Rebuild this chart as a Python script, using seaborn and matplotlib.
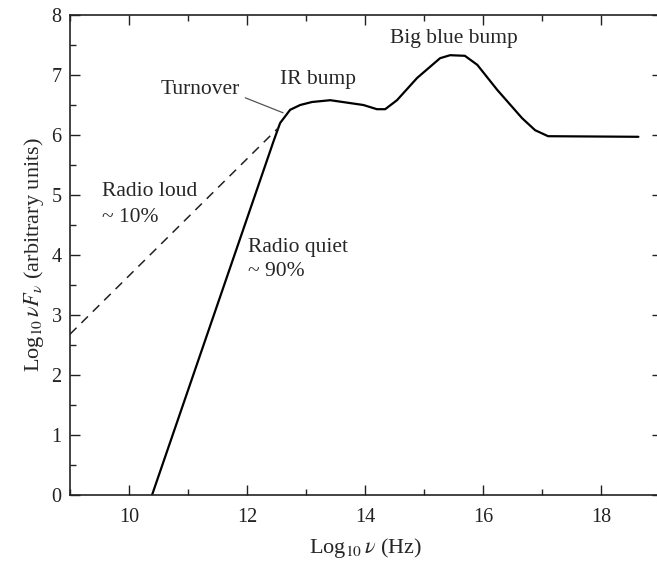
import matplotlib
matplotlib.use("Agg")
import matplotlib.pyplot as plt
import seaborn as sns
import pandas as pd
from matplotlib.ticker import MultipleLocator

# Data
quiet_x = [10.39, 12.45, 12.56, 12.73, 12.9, 13.1, 13.41, 13.97, 14.2, 14.34, 14.54,
           14.88, 15.27, 15.44, 15.69, 15.9, 16.24, 16.66, 16.88, 17.1, 18.63]
quiet_y = [0.0, 5.9, 6.2, 6.42, 6.5, 6.55, 6.58, 6.5, 6.43, 6.43, 6.58,
           6.95, 7.28, 7.33, 7.32, 7.17, 6.75, 6.28, 6.08, 5.98, 5.97]
loud_x = [9.0, 12.53]
loud_y = [2.68, 6.12]

sns.set_style("ticks")
plt.rcParams['font.family'] = ['Liberation Serif', 'DejaVu Serif']
plt.rcParams['mathtext.fontset'] = 'stix'

fig = plt.figure(figsize=(6.57, 5.63), dpi=100)
ax = fig.add_axes([70/657, 68/563, 592/657, 480/563])

dq = pd.DataFrame({"x": quiet_x, "y": quiet_y})
dl = pd.DataFrame({"x": loud_x, "y": loud_y})
sns.lineplot(data=dq, x="x", y="y", ax=ax, color="black", lw=1.6, sort=False)
sns.lineplot(data=dl, x="x", y="y", ax=ax, color="#222222", lw=1.1, sort=False,
             linestyle=(0, (6, 4.5)))

ax.set_xlim(9, 19.03)
ax.set_ylim(0, 8)
ax.xaxis.set_major_locator(MultipleLocator(2))
ax.xaxis.set_minor_locator(MultipleLocator(1))
ax.yaxis.set_major_locator(MultipleLocator(1))
ax.yaxis.set_minor_locator(MultipleLocator(0.5))
ax.tick_params(which='both', direction='in', top=True, right=True,
               colors='#222222', width=1.0, labelsize=14.5)
ax.tick_params(axis='x', pad=9)
ax.tick_params(axis='y', pad=6)
ax.tick_params(which='major', length=7)
ax.tick_params(which='minor', length=4)
ax.tick_params(axis='x', which='minor', top=True)
ax.tick_params(axis='y', which='minor', right=False)
for s in ax.spines.values():
    s.set_linewidth(1.2)
    s.set_color('#222222')
ax.spines['right'].set_visible(False)

ax.set_xlabel(r"Log$_{10}\,\nu$ (Hz)", fontsize=16, labelpad=7)
ax.set_ylabel(r"Log$_{10}\,\nu F_\nu$ (arbitrary units)", fontsize=16, labelpad=4)

fs = 15.5
ax.text(11.2, 6.75, "Turnover", fontsize=fs, ha='center', va='center')
ax.plot([11.97, 12.61], [6.62, 6.37], color='#555555', lw=0.9)
ax.text(13.2, 6.92, "IR bump", fontsize=fs, ha='center', va='center')
ax.text(15.5, 7.6, "Big blue bump", fontsize=fs, ha='center', va='center')
ax.text(9.54, 5.05, "Radio loud", fontsize=fs, ha='left', va='center')
ax.text(9.54, 4.63, "~ 10%", fontsize=fs, ha='left', va='center')
ax.text(12.02, 4.12, "Radio quiet", fontsize=fs, ha='left', va='center')
ax.text(12.02, 3.72, "~ 90%", fontsize=fs, ha='left', va='center')

fig.savefig("out.png", dpi=100)
